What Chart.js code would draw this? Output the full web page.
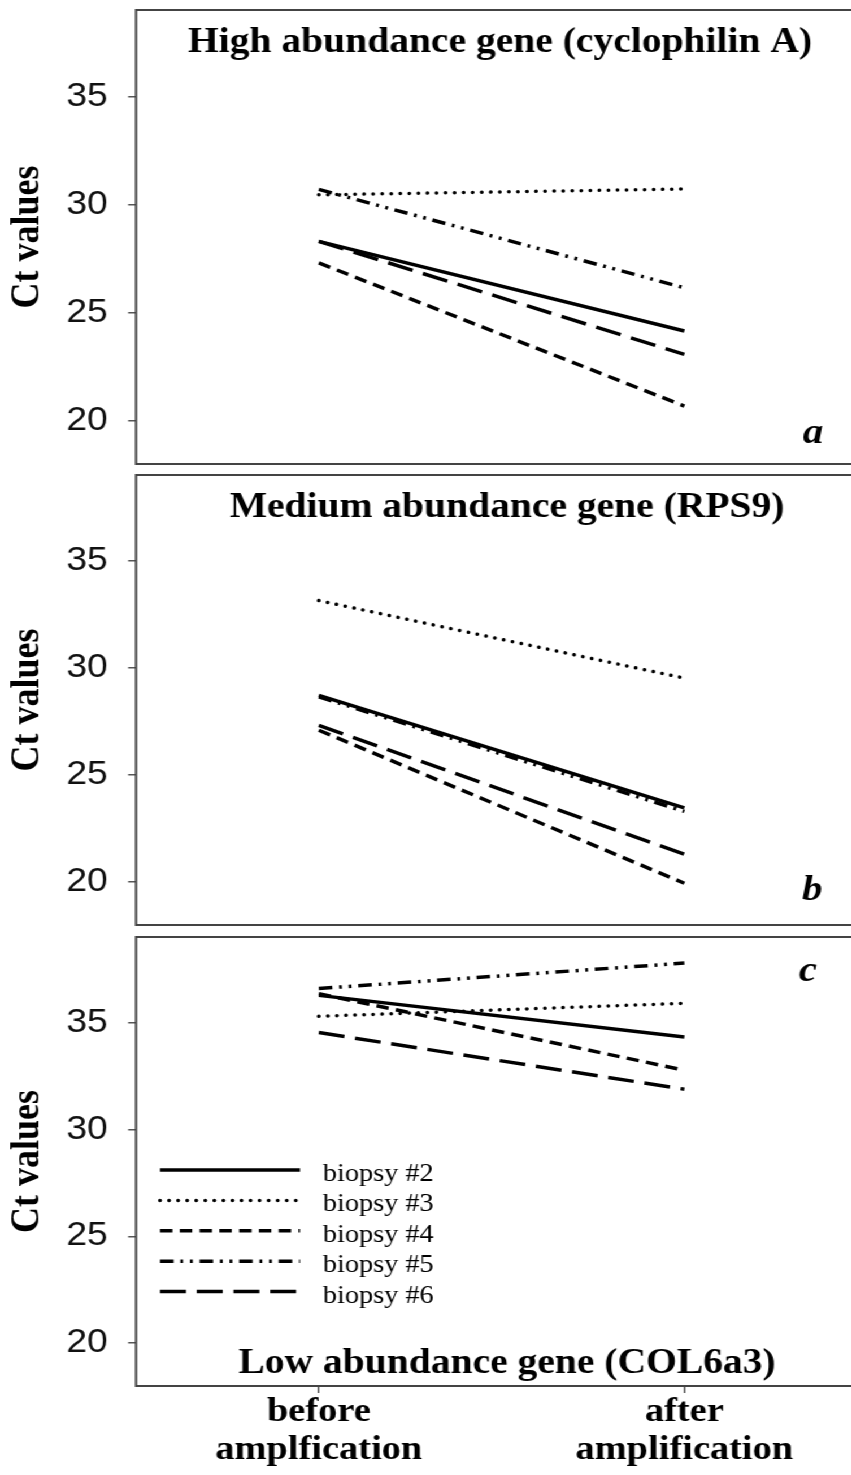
<!DOCTYPE html>
<html>
<head>
<meta charset="utf-8">
<script src="https://cdn.jsdelivr.net/npm/chart.js@4.4.1/dist/chart.umd.min.js"></script>
<style>
  html, body { margin: 0; padding: 0; background: #fff; overflow: hidden; }
  body { width: 851px; height: 1475px; position: relative; }
  /* the published figure is stretched a little horizontally, so the whole stage is too */
  #stage { position: absolute; left: 0; top: 0; width: 800px; height: 1475px; transform: scaleX(1.13); transform-origin: 0 0; }
  canvas { position: absolute; left: 0; }
</style>
</head>
<body>
<div id="stage">
  <canvas id="panelA" width="800" height="470" style="top:0px"></canvas>
  <canvas id="panelB" width="800" height="461" style="top:470px"></canvas>
  <canvas id="panelC" width="800" height="544" style="top:931px"></canvas>
</div>
<script>
const SERIF = '"Liberation Serif", "Times New Roman", serif';
const SANS = '"Liberation Sans", Arial, sans-serif';

// Data
const xLabels = [['before', 'amplfication'], ['after', 'amplification']];
const xPositions = [1, 2];
const seriesNames = ['biopsy #2', 'biopsy #3', 'biopsy #4', 'biopsy #5', 'biopsy #6'];
const yTicks = [20, 25, 30, 35];

// Ct before / after, one pair per biopsy (same order as seriesNames)
const highAbundance = [[28.3, 24.15], [30.45, 30.72], [27.3, 20.68], [30.7, 26.15], [28.3, 23.07]];
const mediumAbundance = [[28.72, 23.47], [33.14, 29.52], [27.09, 19.95], [28.65, 23.3], [27.32, 21.3]];
const lowAbundance = [[36.27, 34.32], [35.29, 35.9], [36.35, 32.77], [36.59, 37.78], [34.53, 31.88]];

// line type per biopsy
const lineStyles = [
    { dash: [], cap: 'butt' },
    { dash: [0.01, 8], cap: 'round' },
    { dash: [11, 6.5], cap: 'butt' },
    { dash: [12, 6, 2.5, 6, 2.5, 6], cap: 'butt' },
    { dash: [23, 9.5], cap: 'butt' }
];

// box, inner title, panel letter and (bottom panel only) the legend
const panelDecor = {
    id: 'panelDecor',
    afterDraw(chart, args, opts) {
        const { ctx, chartArea: a } = chart;
        ctx.save();
        ctx.strokeStyle = '#444';
        ctx.lineWidth = 2;
        ctx.setLineDash([]);
        ctx.strokeRect(a.left, a.top, a.right - a.left, a.bottom - a.top);

        ctx.fillStyle = '#000';
        ctx.textBaseline = 'alphabetic';
        ctx.textAlign = 'center';
        ctx.font = `bold 35px ${SERIF}`;
        ctx.fillText(opts.title, opts.titleX, opts.titleY);

        ctx.textAlign = 'left';
        ctx.font = `italic bold 36px ${SERIF}`;
        ctx.fillText(opts.letter, opts.letterX, opts.letterY);

        if (opts.legend) {
            ctx.font = `25px ${SERIF}`;
            chart.data.datasets.forEach((ds, i) => {
                const y = 239 + i * 30.4;
                ctx.strokeStyle = '#000';
                ctx.lineWidth = ds.borderWidth;
                ctx.lineCap = ds.borderCapStyle;
                ctx.setLineDash(ds.borderDash);
                ctx.beginPath();
                ctx.moveTo(141.6, y);
                ctx.lineTo(265.5, y);
                ctx.stroke();
                ctx.fillText(ds.label, 285.8, y + 11);
            });
        }
        ctx.restore();
    }
};

function makePanel(id, values, deco, showX, padding) {
    const datasets = values.map((pair, i) => ({
        label: seriesNames[i],
        data: pair.map((v, j) => ({ x: xPositions[j], y: v })),
        borderColor: '#000',
        borderWidth: 3.5,
        borderDash: lineStyles[i].dash,
        borderCapStyle: lineStyles[i].cap,
        pointRadius: 0,
        fill: false,
        tension: 0
    }));

    return new Chart(document.getElementById(id), {
        type: 'line',
        data: { datasets },
        plugins: [panelDecor],
        options: {
            responsive: false,
            animation: false,
            layout: { padding },
            plugins: {
                legend: { display: false },
                tooltip: { enabled: false },
                panelDecor: deco
            },
            scales: {
                x: {
                    type: 'linear',
                    min: 0.5,
                    max: 2.57,
                    display: showX,
                    afterBuildTicks: s => { s.ticks = xPositions.map(v => ({ value: v })); },
                    afterFit: s => {
                        s.height = showX ? 89 : 0;
                        s.paddingLeft = 0;
                        s.paddingRight = 0;
                    },
                    ticks: {
                        callback: v => xLabels[xPositions.indexOf(v)],
                        font: { family: SERIF, weight: 'bold', size: 34, lineHeight: 1.12 },
                        color: '#000',
                        padding: 0,
                        maxRotation: 0,
                        autoSkip: false
                    },
                    grid: { drawOnChartArea: false, tickLength: 7, color: '#555', lineWidth: 1.5 },
                    border: { display: false }
                },
                y: {
                    min: 18,
                    max: 39,
                    afterBuildTicks: s => { s.ticks = yTicks.map(v => ({ value: v })); },
                    afterFit: s => {
                        s.width = 120.4;
                        s.paddingTop = 0;
                        s.paddingBottom = 0;
                    },
                    ticks: { font: { family: SANS, size: 33 }, color: '#111', padding: 18 },
                    grid: { drawOnChartArea: false, tickLength: 7, color: '#555', lineWidth: 1.5 },
                    border: { display: false },
                    title: {
                        display: true,
                        text: 'Ct values',
                        font: { family: SERIF, weight: 'bold', size: 36 },
                        color: '#000',
                        padding: { top: 3, bottom: 0 }
                    }
                }
            }
        }
    });
}

makePanel('panelA', highAbundance,
    { title: 'High abundance gene (cyclophilin A)', titleX: 442.5, titleY: 52, letter: 'a', letterX: 710.6, letterY: 443 },
    false, { top: 10, bottom: 6, left: 0, right: 10 });

makePanel('panelB', mediumAbundance,
    { title: 'Medium abundance gene (RPS9)', titleX: 448.7, titleY: 47, letter: 'b', letterX: 709.7, letterY: 430 },
    false, { top: 5, bottom: 6, left: 0, right: 10 });

makePanel('panelC', lowAbundance,
    { title: 'Low abundance gene (COL6a3)', titleX: 448.7, titleY: 442, letter: 'c', letterX: 707, letterY: 50.4, legend: true },
    true, { top: 6, bottom: 0, left: 0, right: 10 });
</script>
</body>
</html>
